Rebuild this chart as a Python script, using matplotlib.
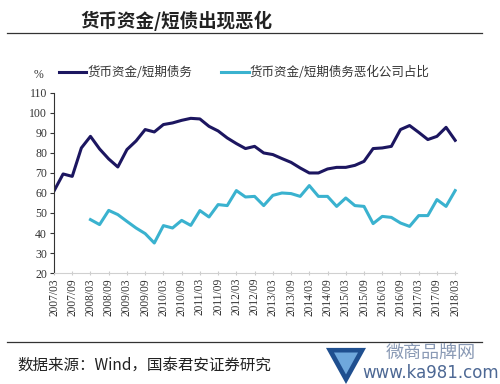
import numpy as np
import matplotlib
matplotlib.use("Agg")
import matplotlib.pyplot as plt
from matplotlib.patches import Polygon

plt.rcParams['font.family'] = ['Noto Sans CJK SC', 'DejaVu Sans']

# quarterly labels 2007/03 .. 2018/03
quarters = []
for yr in range(2007, 2019):
    for m in ['03', '06', '09', '12']:
        quarters.append(f'{yr}/{m}')
quarters = quarters[:45]

cash_short_debt = [61, 69.5, 68.3, 82.5, 88.3, 82, 77, 73, 81.7, 86, 91.7, 90.5,
                   94.2, 95, 96.3, 97.3, 97, 93.3, 91, 87.5, 84.7, 82.2, 83.3, 80,
                   79.2, 77.2, 75.3, 72.5, 70, 70, 72, 72.8, 72.8, 73.8, 75.8, 82.2,
                   82.5, 83.3, 91.7, 93.7, 90.3, 86.7, 88.3, 92.8, 86.3]

worse_ratio = [None, None, None, None, 46.7, 44.2, 51.3, 49.2, 45.8, 42.5, 39.7, 35,
               43.7, 42.5, 46.3, 43.8, 51.2, 48, 54.2, 53.7, 61.2, 58, 58.3, 53.7,
               58.8, 60, 59.7, 58.3, 63.7, 58.3, 58.3, 53.3, 57.5, 53.7, 53.3, 44.7,
               48.3, 47.8, 45, 43.3, 48.7, 48.7, 56.7, 53.3, 61.2]

name1 = '货币资金/短期债务'
name2 = '货币资金/短期债务恶化公司占比'

x = np.arange(len(quarters))
y2 = np.array([np.nan if v is None else v for v in worse_ratio], dtype=float)

fig = plt.figure(figsize=(5.0, 3.84), dpi=100)
fig.patch.set_facecolor('white')
ax = fig.add_axes([0.108, 0.289, 0.806, 0.469])

ax.plot(x, cash_short_debt, color='#1c1660', lw=2.2, label=name1)
ax.plot(x, y2, color='#3ab2cf', lw=2.2, label=name2)

ax.set_xlim(0, 44.2)
ax.set_ylim(20, 110)
ax.set_yticks(range(20, 111, 10))
ax.set_xticks(x[::2])
ax.set_xticklabels(quarters[::2], rotation=90, family='Liberation Serif', fontsize=8.3, color='#333333')
for lab in ax.get_yticklabels():
    lab.set_family('Liberation Serif')
ax.tick_params(axis='y', labelsize=8.5, length=3, color='#333333', labelcolor='#333333', pad=2)
ax.tick_params(axis='x', length=3, direction='inout', color='#cccccc', pad=2)

for s in ['top', 'right']:
    ax.spines[s].set_visible(False)
ax.spines['bottom'].set_color('#d0d0d0')
ax.spines['left'].set_color('#333333')

leg = ax.legend(loc='lower left', bbox_to_anchor=(0.012, 1.075), ncol=2, frameon=False,
                fontsize=9, handlelength=2.2, handletextpad=0.1, columnspacing=2.3,
                borderaxespad=0, borderpad=0)
for t in leg.get_texts():
    t.set_color('#333333')

fig.text(0.068, 0.805, '%', fontsize=8.5, ha='left', va='center', color='#333333',
         family='Liberation Serif')

# title and rules
fig.text(0.16, 0.945, '货币资金/短债出现恶化', fontsize=13.3, fontweight='bold',
         ha='left', va='center', color='#222222')
fig.add_artist(plt.Line2D([0.014, 0.964], [0.914, 0.914], color='#333333', lw=0.9))
fig.add_artist(plt.Line2D([0.014, 0.964], [0.109, 0.109], color='#333333', lw=0.9))

fig.text(0.034, 0.05, '数据来源：Wind，国泰君安证券研究', fontsize=11.2,
         ha='left', va='center', color='#222222')

# watermark
fig.add_artist(Polygon([[0.652, 0.094], [0.732, 0.094], [0.692, 0.0]], closed=True,
                       transform=fig.transFigure, facecolor='#1f4f8f', edgecolor='none'))
fig.add_artist(Polygon([[0.668, 0.082], [0.716, 0.082], [0.692, 0.025]], closed=True,
                       transform=fig.transFigure, facecolor='#6fa8dc', edgecolor='none'))
fig.text(0.862, 0.082, '微商品牌网', fontsize=13, ha='center', va='center', color='#8a9ab5')
fig.text(0.862, 0.028, 'www.ka981.com', fontsize=12, ha='center', va='center',
         color='#4d6894', family='DejaVu Sans')

fig.savefig('out.png', dpi=100, facecolor='white')
